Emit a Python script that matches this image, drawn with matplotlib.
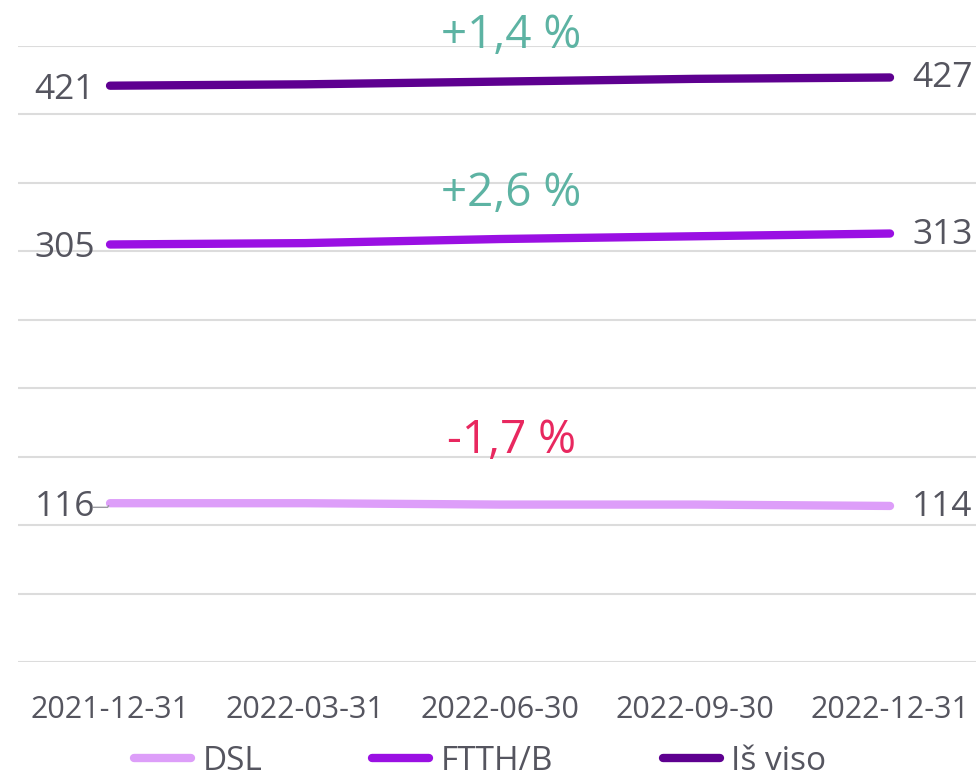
import matplotlib
matplotlib.use("Agg")
import matplotlib.pyplot as plt
from matplotlib.lines import Line2D

# =========================
# DATA
# =========================
dates = ["2021-12-31", "2022-03-31", "2022-06-30", "2022-09-30", "2022-12-31"]
dsl = [116, 116, 115, 115, 114]
ftth = [305, 306, 309, 311, 313]
total = [421, 422, 424, 426, 427]
series_names = ["DSL", "FTTH/B", "Iš viso"]

colors = ["#dd9ef9", "#9a10e3", "#5e0090"]
txt_col = "#55555f"
pos_col = "#5db3a3"
neg_col = "#e8285f"

plt.rcParams['font.family'] = ['Open Sans', 'DejaVu Sans']

fig = plt.figure(figsize=(9.76, 7.83), dpi=100)
ax = fig.add_axes([18/976, (783-662)/783, (976-18)/976, (662-46)/783])

x = list(range(len(dates)))
for vals, c in zip([dsl, ftth, total], colors):
    ax.plot(x, vals, color=c, lw=6, solid_capstyle='round', zorder=3)

    # start / end labels
    ax.annotate(str(vals[0]), (x[0], vals[0]), xytext=(-15, -4), textcoords='offset pixels',
                ha='right', va='center', fontsize=25.5, color=txt_col)
    ax.annotate(str(vals[-1]), (x[-1], vals[-1]), xytext=(22, -1), textcoords='offset pixels',
                ha='left', va='center', fontsize=25.5, color=txt_col)

    # change in percent
    ch = (vals[-1] - vals[0]) / vals[0] * 100
    lbl = f"{ch:+.1f} %".replace(".", ",")
    ax.annotate(lbl, (2, vals[0]), xytext=(11, 50 if ch > 0 else 62), textcoords='offset pixels',
                ha='center', va='center', fontsize=33, color=pos_col if ch > 0 else neg_col)

# little leader line for DSL start label
ax.annotate("", xy=(x[0], dsl[0]), xytext=(-0.1, dsl[0] - 3),
            arrowprops=dict(arrowstyle='-', color='#9a9aa0', lw=1,
                            connectionstyle='angle,angleA=0,angleB=60,rad=0'))

ax.set_xlim(-0.472, 4.441)
ax.set_ylim(0, 450)
ax.set_yticks(range(0, 451, 50))
ax.set_yticklabels([])
ax.set_xticks(x)
ax.set_xticklabels(dates, fontsize=22, color=txt_col)
ax.tick_params(axis='both', length=0)
ax.tick_params(axis='x', pad=24)
ax.grid(axis='y', color='#dcdcdc', lw=1.5)
ax.set_axisbelow(True)
for s in ax.spines.values():
    s.set_visible(False)

handles = [Line2D([0], [0], color=c, lw=6, solid_capstyle='round') for c in colors]
leg = fig.legend(handles, series_names, loc='lower center', bbox_to_anchor=(0.492, -0.032), ncol=3,
                 frameon=False, fontsize=24, handlelength=1.7, handletextpad=0.35,
                 columnspacing=3.3)
for t in leg.get_texts():
    t.set_color(txt_col)

fig.savefig("out.png", dpi=100)
